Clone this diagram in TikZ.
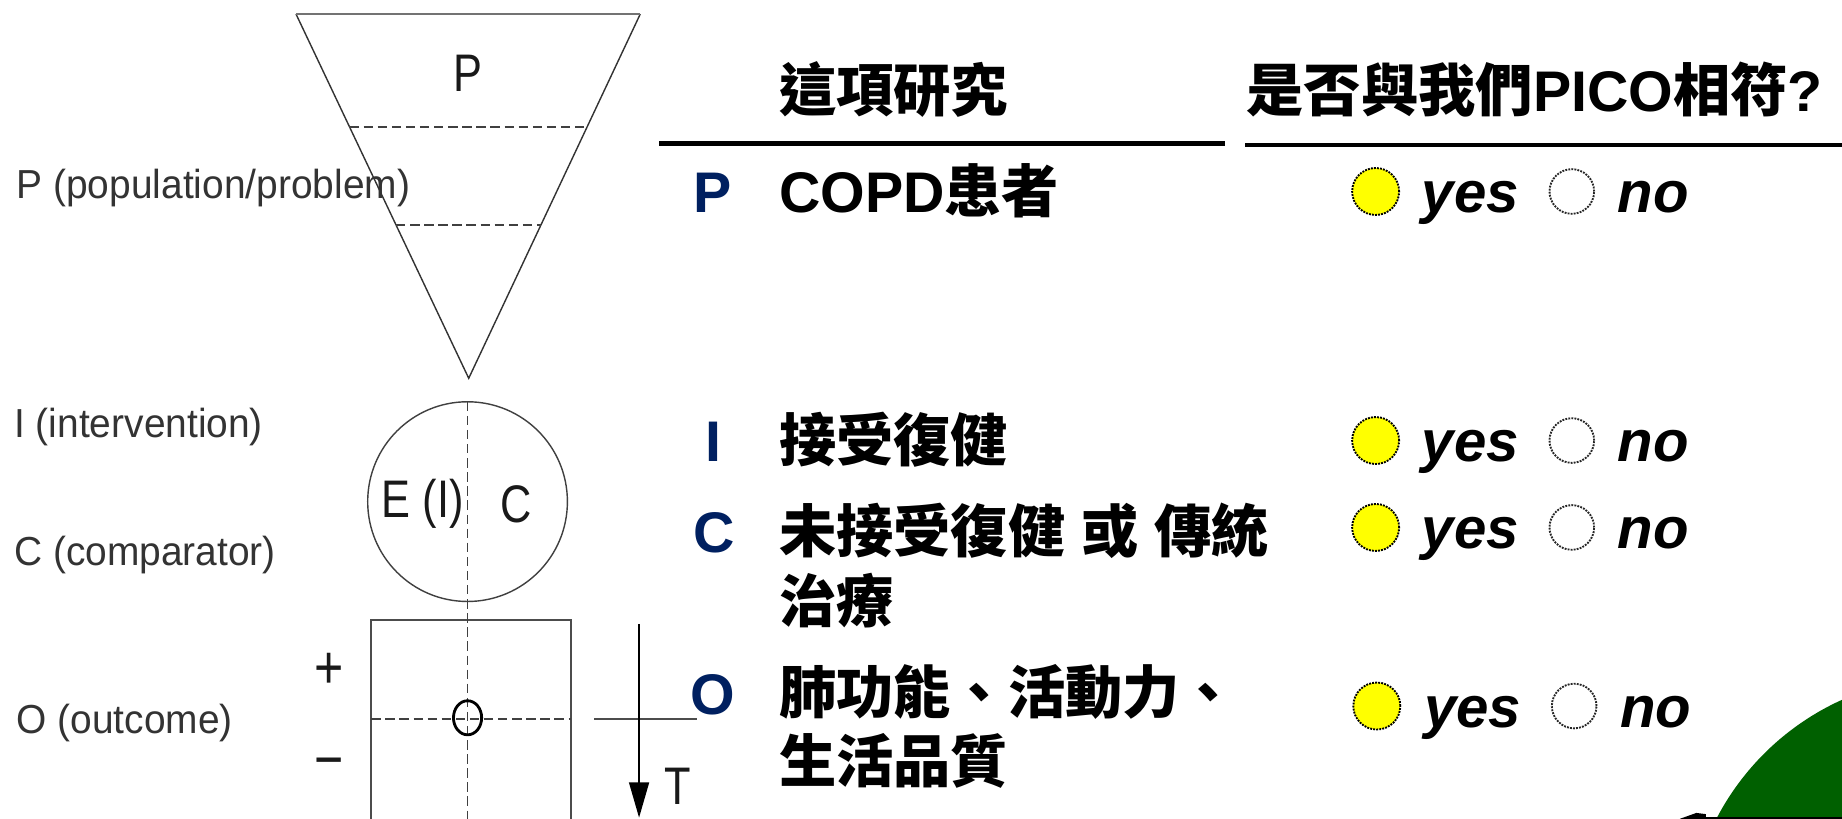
\documentclass[tikz,border=0pt]{standalone}
\usepackage{fontspec}
\setmainfont{Liberation Sans}
\newfontfamily\cjk{Noto Sans CJK TC}
\newfontfamily\narrowfont{Liberation Sans}[FakeStretch=0.82]
\newfontfamily\labfont{Liberation Sans}[FakeStretch=0.96]
\usetikzlibrary{arrows.meta}
\definecolor{navy}{HTML}{002060}
\definecolor{lbl}{HTML}{333333}
\definecolor{dkgreen}{HTML}{006000}
\definecolor{yel}{HTML}{FFFF00}
\newcommand\zhb[1]{{\cjk\bfseries #1}}
\tikzset{
  lab/.style={anchor=base west, inner sep=0pt, text=lbl, font=\labfont\fontsize{34.5}{40}\selectfont},
  fig/.style={draw=black!80, line width=1.2pt},
  dsh/.style={draw=black!75, line width=1.2pt, dash pattern=on 8pt off 4pt},
  figtext/.style={inner sep=0pt, text=black!90, font=\narrowfont\fontsize{45}{50}\selectfont},
  zh/.style={anchor=base west, inner sep=0pt, font=\fontsize{48.75}{58}\selectfont\bfseries},
  letter/.style={anchor=base west, inner sep=0pt, text=navy, font=\fontsize{48.75}{58}\selectfont\bfseries},
  ans/.style={anchor=base west, inner sep=0pt, font=\fontsize{49.5}{58}\selectfont\bfseries\itshape},
  yesdot/.style={circle, inner sep=0pt, minimum size=40pt, draw=black, densely dotted, line width=1.6pt, fill=yel},
  nodot/.style={circle, inner sep=0pt, minimum size=38pt, draw=black!85, densely dotted, line width=1.6pt},
  rule/.style={line width=3.9pt, draw=black},
}
\begin{document}
\begin{tikzpicture}[x=1pt,y=-1pt]
\useasboundingbox (0,0) rectangle (1568,697);
\begin{scope}
\clip (0,0) rectangle (1568,697);
% ---------- left figure ----------
\draw[fig] (252,12) -- (399,322) -- (545,12);
\draw[draw=black!55, line width=2pt] (252,12) -- (545,12);
\draw[dsh] (297.5,108) -- (499.8,108);
\draw[dsh] (337.1,191.5) -- (460.5,191.5);
\node[figtext] (tp) at (398,62) {P};

\node[lab] (lp) at (14,169) {P (population/problem)};
\node[lab] (li) at (12,372) {I (intervention)};
\node[lab] (lc) at (12,481) {C (comparator)};
\node[lab] (lo) at (14,624) {O (outcome)};

\node[circle, draw=black!75, line width=1.2pt, minimum size=170pt, inner sep=0pt] (ic) at (398,427) {};
\node[figtext] (ei) at (360,429) {E (I)};
\node[figtext] (cc) at (439,429) {C};

\draw[draw=black!70, line width=1.5pt] (316,760) -- (316,528) -- (486,528) -- (486,760);
\draw[dsh] (398,342) -- (398,760);
\draw[dsh] (316,612) -- (486,612);
\draw[line width=2.4pt] (398,611) ellipse (12 and 14.5);
\node[figtext, font=\narrowfont\fontsize{52}{56}\selectfont] (plus) at (280,571) {+};
\node[figtext, font=\narrowfont\fontsize{52}{56}\selectfont] (minus) at (280,655) {\char"2212};

\draw[draw=black!70, line width=1.2pt] (506,612) -- (593,612);
\coordinate (ta) at (544,531);
\coordinate (tb) at (544,696);
\draw[line width=1.3pt, -{Triangle[length=30pt,width=17pt]}] (ta) -- (tb);
\node[figtext] (tt) at (577,669) {T};

% ---------- green shape ----------
\fill[dkgreen] (1660,800) circle (224);
\fill[black] (1430,697) -- (1444,692) -- (1452,693) -- (1452,697) -- cycle;
\fill[black] (1452,695.8) rectangle (1568,697);

% ---------- table ----------
\node[zh] (h1) at (663,95) {\zhb{這項研究}};
\node[zh] (h2) at (1061,95) {\zhb{是否與我們}PICO\zhb{相符}?};
\draw[rule] (561,122) -- (1043,122);
\draw[rule] (1060,123.5) -- (1568,123.5);

\node[letter] (rp) at (590,181) {P};
\node[zh] (tp1) at (663,181) {COPD\zhb{患者}};
\node[yesdot] (y1) at (1171,163) {};
\node[ans] (ya1) at (1210,181) {yes};
\node[nodot] (n1) at (1338,163) {};
\node[ans] (na1) at (1377,181) {no};

\node[letter] (ri) at (600,393) {I};
\node[zh] (ti1) at (663,393) {\zhb{接受復健}};
\node[yesdot] (y2) at (1171,375) {};
\node[ans] (ya2) at (1210,393) {yes};
\node[nodot] (n2) at (1338,375) {};
\node[ans] (na2) at (1377,393) {no};

\node[letter] (rc) at (590,470) {C};
\node[zh] (tc1) at (663,470) {\zhb{未接受復健} \zhb{或} \zhb{傳統}};
\node[zh] (tc2) at (663,530) {\zhb{治療}};
\node[yesdot] (y3) at (1171,449) {};
\node[ans] (ya3) at (1210,467) {yes};
\node[nodot] (n3) at (1338,449) {};
\node[ans] (na3) at (1377,467) {no};

\node[letter] (ro) at (588,608) {O};
\node[zh] (to1) at (663,607) {\zhb{肺功能、活動力、}};
\node[zh] (to2) at (663,666) {\zhb{生活品質}};
\node[yesdot] (y4) at (1172,601) {};
\node[ans] (ya4) at (1212,619) {yes};
\node[nodot] (n4) at (1340,601) {};
\node[ans] (na4) at (1379,619) {no};
\end{scope}
\end{tikzpicture}
\end{document}
